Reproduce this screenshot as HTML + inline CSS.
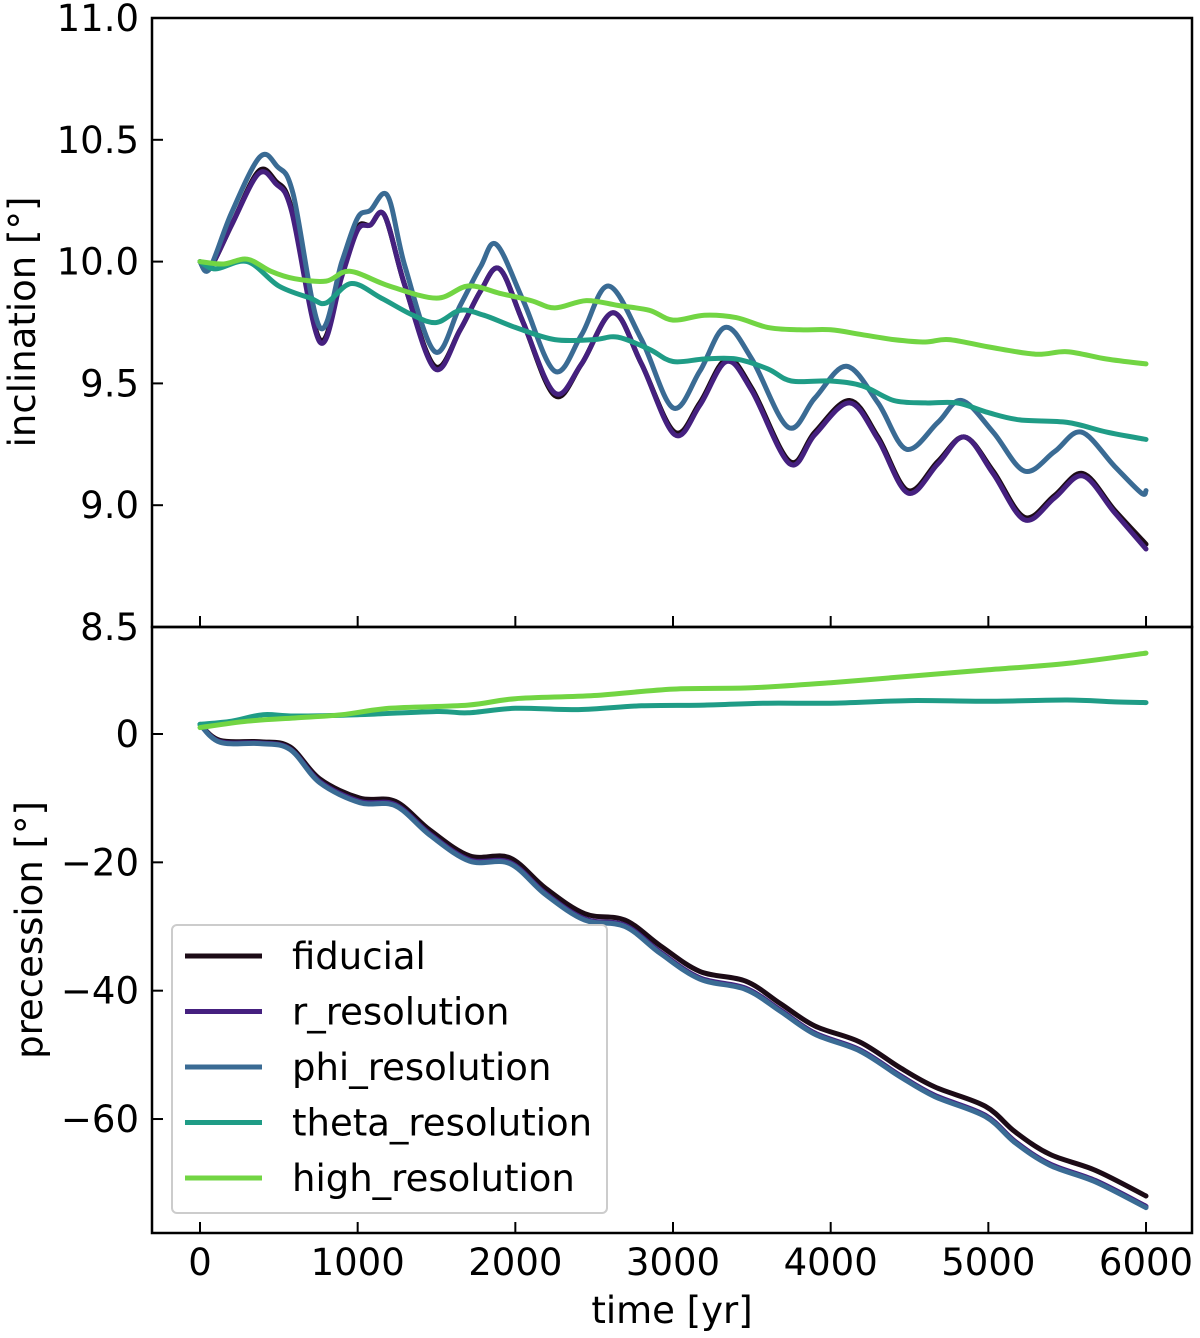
<!DOCTYPE html>
<html><head><meta charset="utf-8"><style>
body{margin:0;background:#fff}
svg{display:block;font-family:"DejaVu Sans","Liberation Sans",sans-serif}
</style></head><body>
<svg id="chart" width="1200" height="1338" viewBox="0 0 1200 1338" xmlns="http://www.w3.org/2000/svg"></svg>
<script>
// ---------- data ----------
const xTicks=[0,1000,2000,3000,4000,5000,6000];
const incTicks=[8.5,9.0,9.5,10.0,10.5,11.0];
const incTickLabels=["8.5","9.0","9.5","10.0","10.5","11.0"];
const precTicks=[-60,-40,-20,0];
const precTickLabels=["\u221260","\u221240","\u221220","0"];
const seriesNames=["fiducial","r_resolution","phi_resolution","theta_resolution","high_resolution"];
const seriesColors=["#1c0b16","#45207f","#3a6b94","#1f9c86","#72d543"];

const incFidT=[0,60,200,370,480,580,760,900,1000,1080,1170,1300,1490,1650,1780,1900,2050,2250,2420,2620,2800,3010,3170,3340,3500,3740,3900,4120,4300,4490,4680,4850,5030,5230,5420,5600,5800,6000];
const incFid=[10.0,9.97,10.15,10.37,10.33,10.22,9.68,9.95,10.14,10.15,10.19,9.9,9.57,9.72,9.88,9.97,9.75,9.45,9.58,9.79,9.58,9.3,9.42,9.6,9.48,9.18,9.3,9.43,9.28,9.06,9.18,9.28,9.14,8.95,9.04,9.13,8.98,8.84];
const incR=[10.0,9.97,10.15,10.36,10.32,10.21,9.67,9.94,10.13,10.15,10.19,9.9,9.56,9.72,9.88,9.97,9.75,9.46,9.58,9.79,9.58,9.29,9.41,9.59,9.47,9.17,9.29,9.42,9.27,9.05,9.17,9.28,9.13,8.94,9.03,9.12,8.97,8.82];
const incPhiT=[0,60,200,380,490,590,760,900,1000,1080,1190,1300,1490,1650,1780,1880,2050,2250,2420,2590,2800,3000,3170,3330,3500,3730,3900,4100,4300,4480,4680,4830,5030,5230,5420,5590,5800,5970,6000];
const incPhi=[10.0,9.97,10.2,10.43,10.39,10.28,9.73,10.0,10.18,10.21,10.27,9.98,9.63,9.82,9.98,10.07,9.84,9.55,9.7,9.9,9.68,9.4,9.55,9.73,9.6,9.32,9.44,9.57,9.42,9.23,9.34,9.43,9.3,9.14,9.22,9.3,9.16,9.05,9.06];
const incThetaT=[0,100,300,500,700,800,960,1150,1350,1500,1650,1800,2000,2250,2500,2650,2850,3000,3200,3400,3600,3750,4000,4200,4400,4600,4800,5000,5200,5500,5750,6000];
const incTheta=[10.0,9.97,10.0,9.9,9.85,9.83,9.91,9.85,9.78,9.75,9.8,9.78,9.73,9.68,9.68,9.69,9.64,9.59,9.6,9.6,9.56,9.51,9.51,9.49,9.43,9.42,9.42,9.38,9.35,9.34,9.3,9.27];
const incHighT=[0,150,300,450,600,800,950,1200,1500,1700,1900,2100,2250,2450,2650,2850,3000,3200,3400,3600,3800,4000,4200,4400,4600,4750,5000,5300,5500,5750,6000];
const incHigh=[10.0,9.99,10.01,9.96,9.93,9.92,9.96,9.9,9.85,9.9,9.87,9.84,9.81,9.84,9.82,9.8,9.76,9.78,9.77,9.73,9.72,9.72,9.7,9.68,9.67,9.68,9.65,9.62,9.63,9.6,9.58];

const precT=[0,127,380,570,760,1015,1240,1460,1710,1965,2190,2440,2695,2920,3170,3460,3680,3900,4185,4440,4660,4980,5170,5390,5680,6000];
const precFid=[1.5,-1,-1.2,-2,-7,-10,-10.5,-15,-19,-19.3,-24,-28,-29,-33,-37,-38.5,-42,-45.5,-48,-52,-55,-58,-62,-65.5,-68,-72];
const precR=[1.5,-1.2,-1.4,-2.3,-7.4,-10.5,-11,-15.6,-19.6,-20,-24.8,-28.8,-29.8,-34,-38,-39.6,-43,-46.6,-49.2,-53.2,-56.3,-59.4,-63.5,-67,-69.6,-73.6];
const precPhi=[1.5,-1.3,-1.5,-2.4,-7.6,-10.7,-11.2,-15.8,-19.8,-20.2,-25,-29,-30,-34.2,-38.2,-39.8,-43.2,-46.8,-49.4,-53.4,-56.5,-59.6,-63.7,-67.2,-69.8,-73.8];
const precThetaT=[0,200,400,600,1000,1500,1700,2000,2400,2800,3200,3600,4000,4500,5000,5500,5800,6000];
const precTheta=[1.5,2,3,2.8,3,3.5,3.3,4,3.8,4.4,4.5,4.8,4.8,5.2,5.1,5.3,5,4.9];
const precHighT=[0,300,600,900,1200,1700,2000,2500,3000,3500,4000,4500,5000,5500,6000];
const precHigh=[1,2,2.5,3,4,4.5,5.5,6,7,7.2,8,9,10,11,12.6];

// ---------- layout ----------
const NS="http://www.w3.org/2000/svg";
const svg=document.getElementById('chart');
const L=152,R=1192,T1=18,B1=627,T2=627,B2=1233;
const FS=37;
const xs=t=>200+(t/1000)*157.67;
const yInc=v=>18+(11-v)/2.5*609;
const yPrec=v=>734-v*6.417;
function el(tag,attrs,parent){const e=document.createElementNS(NS,tag);for(const k in attrs)e.setAttribute(k,attrs[k]);(parent||svg).appendChild(e);return e;}
function smooth(pts){let d=`M${pts[0][0]},${pts[0][1]}`;for(let i=0;i<pts.length-1;i++){const p0=pts[Math.max(0,i-1)],p1=pts[i],p2=pts[i+1],p3=pts[Math.min(pts.length-1,i+2)];const c1=[p1[0]+(p2[0]-p0[0])/6,p1[1]+(p2[1]-p0[1])/6],c2=[p2[0]-(p3[0]-p1[0])/6,p2[1]-(p3[1]-p1[1])/6];d+=`C${c1[0].toFixed(1)},${c1[1].toFixed(1)} ${c2[0].toFixed(1)},${c2[1].toFixed(1)} ${p2[0].toFixed(1)},${p2[1].toFixed(1)}`;}return d;}
function line(ts,vs,yf,color,name){const p=el('path',{d:smooth(ts.map((t,i)=>[xs(t),yf(vs[i])])),fill:'none',stroke:color,'stroke-width':5,'stroke-linejoin':'round','stroke-linecap':'round'});

}

line(incFidT,incFid,yInc,seriesColors[0],'inclination-fiducial-line');
line(incFidT,incR,yInc,seriesColors[1],'inclination-r-resolution-line');
line(incPhiT,incPhi,yInc,seriesColors[2],'inclination-phi-resolution-line');
line(incThetaT,incTheta,yInc,seriesColors[3],'inclination-theta-resolution-line');
line(incHighT,incHigh,yInc,seriesColors[4],'inclination-high-resolution-line');
line(precT,precFid,yPrec,seriesColors[0],'precession-fiducial-line');
line(precT,precR,yPrec,seriesColors[1],'precession-r-resolution-line');
line(precT,precPhi,yPrec,seriesColors[2],'precession-phi-resolution-line');
line(precThetaT,precTheta,yPrec,seriesColors[3],'precession-theta-resolution-line');
line(precHighT,precHigh,yPrec,seriesColors[4],'precession-high-resolution-line');

let f=el('rect',{x:L,y:T1,width:R-L,height:B1-T1,fill:'none',stroke:'#000','stroke-width':2.5});

f=el('rect',{x:L,y:T2,width:R-L,height:B2-T2,fill:'none',stroke:'#000','stroke-width':2.5});


xTicks.forEach(t=>{const x=xs(t);
 el('line',{x1:x,x2:x,y1:B1,y2:B1-11,stroke:'#000','stroke-width':2});
 el('line',{x1:x,x2:x,y1:B2,y2:B2-11,stroke:'#000','stroke-width':2});
 const tx=el('text',{x:x,y:1275,'font-size':FS,'text-anchor':'middle'});tx.textContent=t;
 });
incTicks.forEach((v,i)=>{const y=yInc(v);
 el('line',{x1:L,x2:L+11,y1:y,y2:y,stroke:'#000','stroke-width':2});
 const tx=el('text',{x:139,y:y+13,'font-size':FS,'text-anchor':'end'});tx.textContent=incTickLabels[i];
 });
precTicks.forEach((v,i)=>{const y=yPrec(v);
 el('line',{x1:L,x2:L+11,y1:y,y2:y,stroke:'#000','stroke-width':2});
 const tx=el('text',{x:139,y:y+13,'font-size':FS,'text-anchor':'end'});tx.textContent=precTickLabels[i];
 });

let t=el('text',{x:672,y:1323,'font-size':FS,'text-anchor':'middle'});t.textContent='time [yr]';

t=el('text',{x:0,y:0,'font-size':FS,'text-anchor':'middle',transform:'translate(35,322) rotate(-90)'});t.textContent='inclination [°]';

t=el('text',{x:0,y:0,'font-size':FS,'text-anchor':'middle',transform:'translate(42,930) rotate(-90)'});t.textContent='precession [°]';


const lg=el('g',{});

el('rect',{x:172,y:925,width:435,height:288,rx:5,fill:'#fff','fill-opacity':0.85,stroke:'#ccc','stroke-width':2},lg);
seriesNames.forEach((n,i)=>{const y=956+i*55.5;
 const g=el('g',{},lg);
 
 el('line',{x1:185,x2:262,y1:y,y2:y,stroke:seriesColors[i],'stroke-width':5},g);
 const tx=el('text',{x:292,y:y+13,'font-size':FS},g);tx.textContent=n;});
</script>
</body></html>
